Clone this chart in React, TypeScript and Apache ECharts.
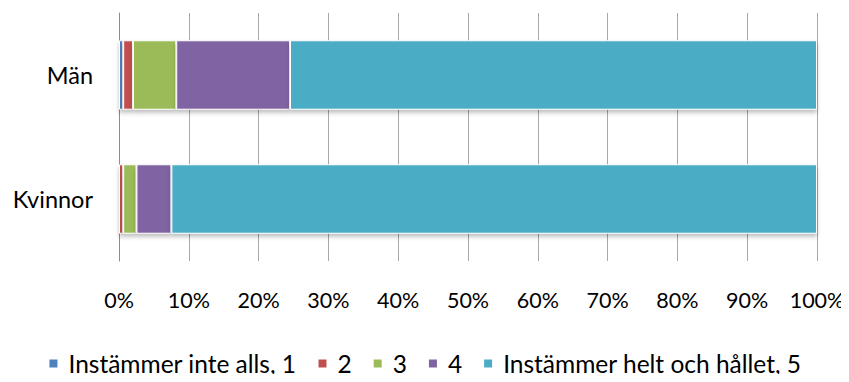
import React, { useEffect, useRef } from "react";
import * as echarts from "echarts";

const categories = ["Män", "Kvinnor"];
const seriesNames = ["Instämmer inte alls, 1", "2", "3", "4", "Instämmer helt och hållet, 5"];
const colors = ["#4F81BD", "#C0504D", "#9BBB59", "#8064A2", "#4BACC6"];
const v1 = [0.6, 0];
const v2 = [1.4, 0.6];
const v3 = [6.2, 1.9];
const v4 = [16.3, 5.0];
const v5 = [75.5, 92.5];
const values = [v1, v2, v3, v4, v5];

const FONT = "Lato, 'Open Sans', sans-serif";

export default function App() {
  const ref = useRef<HTMLDivElement>(null);
  useEffect(() => {
    if (!ref.current) return;
    const chart = echarts.init(ref.current, null, { renderer: "svg" });
    chart.setOption({
      animation: false,
      textStyle: { fontFamily: FONT },
      grid: { left: 119, right: 32, top: 13, bottom: 121, containLabel: false },
      legend: {
        bottom: 1,
        left: "center",
        icon: "rect",
        itemWidth: 10,
        itemHeight: 10,
        itemGap: 20,
        textStyle: { fontFamily: FONT, fontSize: 24.5, color: "#000", padding: [0, 0, 0, 5] },
        data: seriesNames,
      },
      xAxis: {
        type: "value",
        min: 0,
        max: 100,
        interval: 10,
        axisLabel: {
          formatter: "{value}%",
          fontFamily: FONT,
          fontSize: 21.5,
          color: "#000",
          margin: 28,
        },
        axisLine: { show: false },
        axisTick: { show: false },
        splitLine: { show: true, lineStyle: { color: "#a8a8a8", width: 1 } },
      },
      yAxis: {
        type: "category",
        inverse: true,
        data: categories,
        axisLabel: { fontFamily: FONT, fontSize: 23.5, color: "#000", margin: 26 },
        axisLine: { show: true, lineStyle: { color: "#8c8c8c", width: 1 } },
        axisTick: { show: false },
      },
      series: seriesNames.map((name, i) => ({
        name,
        type: "bar",
        stack: "total",
        barWidth: "56%",
        data: values[i],
        itemStyle: {
          color: colors[i],
          borderColor: "#ffffff",
          borderWidth: 1,
          shadowColor: "rgba(0,0,0,0.25)",
          shadowBlur: 4,
          shadowOffsetY: 3,
        },
      })),
    });
    return () => chart.dispose();
  }, []);
  return <div ref={ref} style={{ width: 849, height: 382, margin: -8 }} />;
}
